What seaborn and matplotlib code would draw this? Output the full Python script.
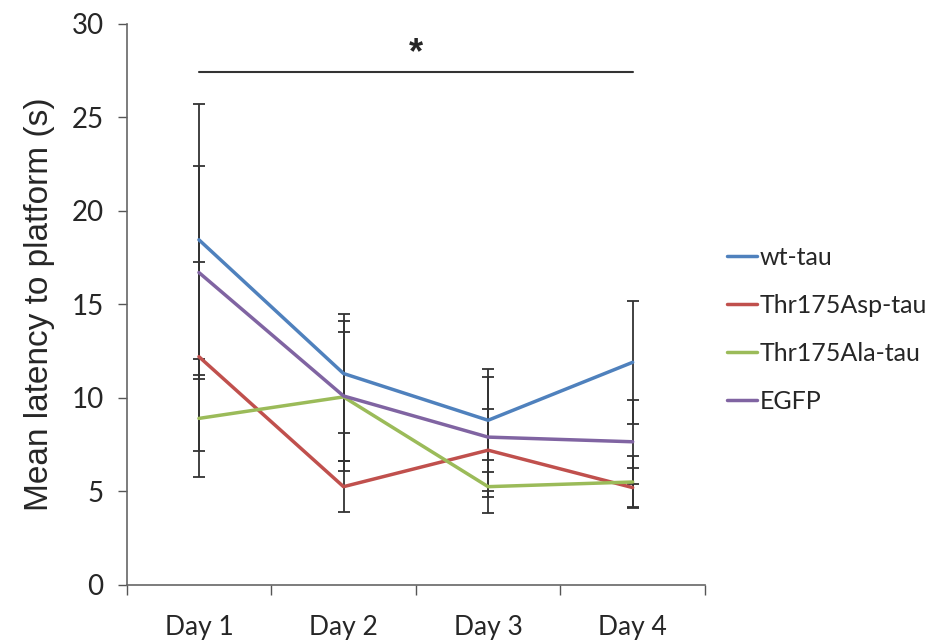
import matplotlib
matplotlib.use("Agg")
import matplotlib.pyplot as plt
import seaborn as sns
import pandas as pd
import numpy as np

days = ["Day 1", "Day 2", "Day 3", "Day 4"]
groups = ["wt-tau", "Thr175Asp-tau", "Thr175Ala-tau", "EGFP"]
colors = ["#4F81BD", "#C0504D", "#9BBB59", "#8064A2"]

wt_tau = [18.45, 11.3, 8.8, 11.9]
asp_tau = [12.2, 5.25, 7.2, 5.2]
ala_tau = [8.9, 10.05, 5.25, 5.5]
egfp = [16.7, 10.1, 7.9, 7.65]

wt_err = [7.25, 3.2, 2.75, 3.3]
asp_err = [5.05, 1.35, 2.2, 1.05]
ala_err = [3.15, 3.45, 1.4, 1.4]
egfp_err = [5.7, 4.0, 3.2, 2.25]

means = [wt_tau, asp_tau, ala_tau, egfp]
errs = [wt_err, asp_err, ala_err, egfp_err]

rows = []
for g, m, e in zip(groups, means, errs):
    for i, d in enumerate(days):
        rows.append({"day": i, "group": g, "latency": m[i], "err": e[i]})
df = pd.DataFrame(rows)

sns.set_style("white")
plt.rcParams["font.family"] = ["Lato", "DejaVu Sans"]

fig = plt.figure(figsize=(9.45, 6.42), dpi=100)
ax = fig.add_axes([0.134, 0.089, 0.612, 0.874])

# error bars first, lines on top
for g in groups:
    sub = df[df["group"] == g]
    ax.errorbar(sub["day"], sub["latency"], yerr=sub["err"], fmt="none",
                ecolor="#333333", elinewidth=1.3, capsize=4, capthick=1.3, zorder=2)

sns.lineplot(data=df, x="day", y="latency", hue="group", hue_order=groups,
             palette=colors, linewidth=2.5, ax=ax, zorder=3)

ax.set_xlim(-0.5, 3.5)
ax.set_ylim(0, 30)
ax.set_yticks([0, 5, 10, 15, 20, 25, 30])
ax.set_xticks([-0.5, 0.5, 1.5, 2.5, 3.5])
ax.set_xticklabels([])
ax.set_xticks(range(4), minor=True)
ax.set_xticklabels(days, minor=True)
ax.tick_params(axis="x", which="major", direction="out", length=7, width=1, color="#555555", bottom=True)
ax.tick_params(axis="x", which="minor", length=0, pad=22, labelsize=19)
ax.tick_params(axis="y", direction="out", length=6.5, width=1, color="#555555", left=True, labelsize=20, pad=10)
ax.set_xlabel("")
ax.set_ylabel("Mean latency to platform (s)", fontsize=24, family=["Liberation Sans", "DejaVu Sans"], labelpad=12)

for s in ["top", "right"]:
    ax.spines[s].set_visible(False)
for s in ["left", "bottom"]:
    ax.spines[s].set_color("#666666")
    ax.spines[s].set_linewidth(1.2)

# significance bar
ax.plot([0, 3], [27.4, 27.4], color="#333333", linewidth=1.5, clip_on=False)
ax.text(1.5, 28.4, "*", ha="center", va="center", fontsize=26, fontweight="bold",
        family=["Liberation Sans", "DejaVu Sans"])

ax.legend(loc="center left", bbox_to_anchor=(1.0, 0.455), frameon=False, fontsize=18,
          handlelength=1.2, handletextpad=0.1, labelspacing=1.0)

fig.savefig("out.png", dpi=100)
